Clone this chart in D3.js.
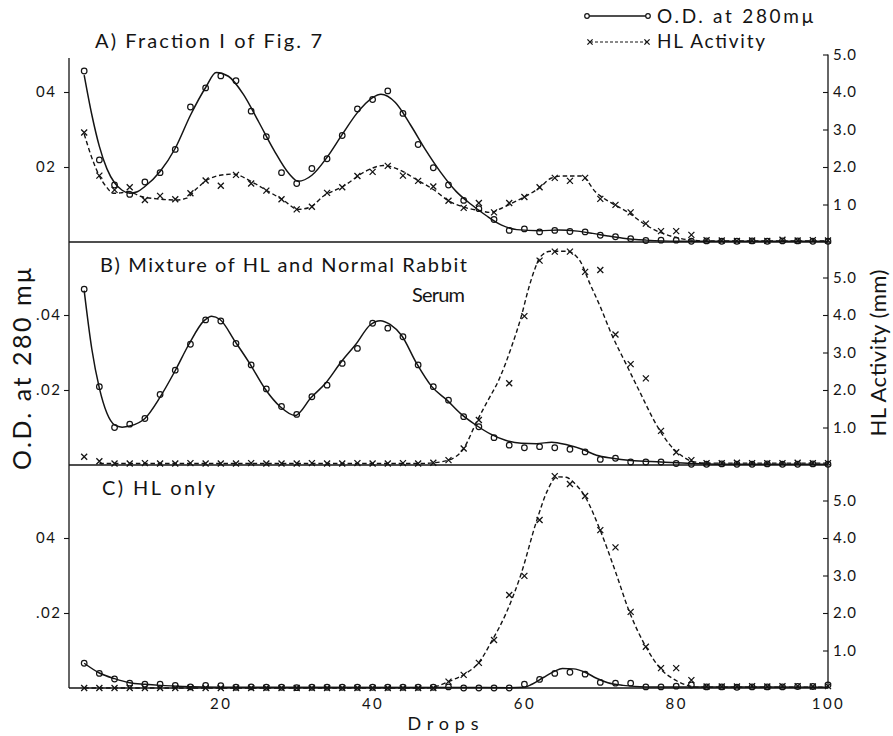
<!DOCTYPE html>
<html>
<head>
<meta charset="utf-8">
<script src="https://cdn.jsdelivr.net/npm/d3@7"></script>
<style>
  body { margin: 0; background: #fff; }
  svg { display: block; }
  text { font-family: Lato, "Noto Sans", "DejaVu Sans", sans-serif; fill: #141414; }
</style>
</head>
<body>
<svg id="chart" width="893" height="736"></svg>
<script>
// ---- data -------------------------------------------------------------
// fractions collected, one reading every 2 drops
const drops = [2,4,6,8,10,12,14,16,18,20,22,24,26,28,30,32,34,36,38,40,42,44,46,48,50,
               52,54,56,58,60,62,64,66,68,70,72,74,76,78,80,82,84,86,88,90,92,94,96,98,100];

// A) Fraction I of Fig. 7
const odA = [0.0456,0.0219,0.0152,0.0127,0.0160,0.0185,0.0247,0.0360,0.0411,0.0443,
             0.0430,0.0349,0.0281,0.0185,0.0156,0.0196,0.0222,0.0284,0.0355,0.0380,
             0.0403,0.0343,0.0260,0.0198,0.0152,0.0111,0.0089,0.0060,0.0031,0.0035,
             0.0027,0.0031,0.0028,0.0027,0.0018,0.0014,0.0009,0.0004,0.0005,0.0005,
             0.0002,0.0003,0.0002,0.0002,0.0003,0.0002,0.0003,0.0003,0.0002,0.0002];
const hlA = [2.92,1.77,1.39,1.46,1.12,1.23,1.14,1.30,1.64,1.50,
             1.79,1.56,1.37,1.14,0.87,0.94,1.31,1.46,1.76,1.87,
             2.03,1.77,1.63,1.48,1.10,0.91,1.04,0.79,1.04,1.20,
             1.46,1.71,1.63,1.71,1.15,0.99,0.79,0.49,0.29,0.29,
             0.19,0.05,0.04,0.03,0.04,0.03,0.06,0.04,0.05,0.04];

// B) Mixture of HL and normal rabbit serum (no activity reading at drop 56)
const odB = [0.0469,0.0209,0.0100,0.0109,0.0124,0.0188,0.0253,0.0322,0.0387,0.0384,
             0.0324,0.0267,0.0203,0.0156,0.0135,0.0182,0.0213,0.0271,0.0311,0.0378,
             0.0365,0.0342,0.0267,0.0209,0.0173,0.0129,0.0102,0.0073,0.0053,0.0046,
             0.0049,0.0046,0.0042,0.0035,0.0015,0.0018,0.0008,0.0008,0.0008,0.0004,
             0.0002,0.0002,0.0003,0.0002,0.0002,0.0003,0.0002,0.0002,0.0003,0.0002];
const hlB = [0.22,0.10,0.04,0.04,0.05,0.04,0.04,0.05,0.04,0.04,
             0.04,0.05,0.04,0.04,0.04,0.05,0.04,0.04,0.05,0.04,
             0.04,0.05,0.04,0.06,0.13,0.44,1.20,null,2.18,3.97,
             5.45,5.69,5.69,5.15,5.20,3.48,2.69,2.31,0.91,0.34,
             0.13,0.05,0.05,0.06,0.05,0.05,0.05,0.06,0.05,0.05];

// C) HL only
const odC = [0.0066,0.0039,0.0024,0.0013,0.0010,0.0010,0.0007,0.0003,0.0007,0.0006,
             0.0002,0.0003,0.0002,0.0002,0.0001,0.0002,0.0002,0.0002,0.0002,0.0002,
             0.0002,0.0002,0.0002,0.0002,0.0003,0.0000,0.0000,0.0000,0.0000,0.0010,
             0.0023,0.0039,0.0042,0.0037,0.0015,0.0013,0.0013,0.0003,0.0003,0.0005,
             0.0008,0.0003,0.0003,0.0002,0.0003,0.0003,0.0003,0.0004,0.0004,0.0008];
const hlC = [0,0,0,0,0,0,0,0,0,0,
             0,0,0,0,0,0,0,0,0,0,
             0,0,0,0,0.17,0.35,0.67,1.28,2.48,2.99,
             4.48,5.65,5.44,5.12,4.21,3.75,2.03,1.10,0.53,0.53,
             0.21,0.04,0.04,0.04,0.05,0.04,0.05,0.05,0.04,0.05];

// smoothed curves drawn by hand through the readings: [drop, value]
const odCurveA = [[2,0.0445],[3,0.034],[4,0.0255],[5,0.0195],[6,0.0158],[7,0.0138],[8,0.0130],
  [9,0.0134],[10,0.0148],[12,0.0188],[14,0.0250],[16,0.0338],[18,0.0412],[19.4,0.0452],[21,0.0442],
  [23,0.0393],[25,0.0320],[27,0.0245],[29,0.0182],[30.2,0.0162],[32,0.0178],[34,0.0226],[36,0.0287],
  [38,0.0345],[40,0.0385],[41.1,0.0394],[43,0.0372],[45,0.0312],[47,0.0245],[49,0.0185],[51,0.0135],
  [53,0.0100],[55,0.0070],[57,0.0045],[59,0.0033],[62,0.0030],[64.5,0.0032],[67,0.0029],[69,0.0023],
  [71,0.0016],[73,0.0010],[76,0.0005],[80,0.0002],[100,0.0002]];
const hlCurveA = [[2,2.88],[3,2.25],[4,1.76],[5,1.45],[5.8,1.30],[6.8,1.31],[7.8,1.35],[9.4,1.22],
  [11.6,1.15],[14.2,1.12],[15.5,1.17],[16.8,1.42],[18.1,1.64],[19.9,1.78],[21.6,1.81],[24.3,1.58],
  [26,1.38],[28.2,1.12],[30.2,0.87],[31.8,0.93],[33.5,1.22],[36.1,1.48],[39.2,1.90],[41.4,2.04],
  [43.6,1.92],[45.8,1.66],[48,1.40],[50,1.10],[52,0.93],[54,0.84],[55.5,0.79],[57,0.90],[58.5,1.05],
  [60,1.20],[62,1.45],[63.5,1.70],[65,1.76],[67.5,1.76],[69.4,1.33],[71.8,1.00],[73.6,0.80],
  [75.5,0.52],[77.6,0.28],[79.6,0.14],[81.6,0.06],[83.5,0.03],[100,0.03]];

const odCurveB = [[2,0.0465],[3,0.031],[4,0.0205],[5,0.0138],[6,0.0107],[7,0.0101],[8,0.0104],
  [10,0.0124],[12,0.0181],[14,0.0252],[15.8,0.0322],[17.8,0.0385],[18.8,0.0397],[19.9,0.0388],
  [21.9,0.0329],[23.8,0.0271],[25.8,0.0204],[27.8,0.0156],[29.8,0.0132],[31.9,0.0180],[33.8,0.0218],
  [35.9,0.0276],[37.8,0.0322],[39.7,0.0374],[41.0,0.0385],[42.3,0.0375],[43.8,0.0346],[45.8,0.0271],
  [47.8,0.0209],[49.8,0.0173],[51.6,0.0137],[53.5,0.0108],[55.5,0.0083],[57.5,0.0066],[59.6,0.0058],
  [61.6,0.0057],[63.6,0.0061],[65.6,0.0054],[67.6,0.0042],[69.5,0.0026],[71.6,0.0018],[74,0.0012],
  [78,0.0008],[82,0.0004],[86,0.0002],[100,0.0002]];
const hlCurveB = [[4,0.04],[46,0.04],[48,0.06],[50,0.13],[52,0.44],[53.7,1.15],[55,1.65],[56.7,2.30],
  [58.3,3.15],[59.6,3.97],[60.5,4.67],[61.4,5.24],[62.1,5.55],[63.4,5.70],[65.6,5.70],[67.3,5.45],
  [68.6,4.85],[70,4.22],[71.5,3.48],[73.4,2.69],[75.2,1.95],[77.4,1.07],[79.2,0.53],[80.9,0.22],
  [82.2,0.09],[84,0.05],[100,0.05]];

const odCurveC = [[2,0.0066],[4,0.0040],[6,0.0025],[8,0.0014],[10,0.0010],[12,0.0007],[15,0.0004],
  [20,0.0002],[58,0.0001],[60,0.0002],[61,0.0010],[62.5,0.0028],[64,0.0045],[65,0.0052],[66.5,0.0051],
  [68,0.0042],[69.5,0.0026],[71,0.0014],[73,0.0007],[76,0.0003],[100,0.0002]];
const hlCurveC = [[2,0],[47,0],[48.5,0.05],[50,0.17],[52,0.36],[54,0.68],[55.7,1.25],[57.6,2.0],
  [59.5,3.0],[61.6,4.45],[63,5.25],[64.3,5.63],[65.5,5.62],[66.5,5.48],[68,5.10],[70,4.20],[72,3.10],
  [73.8,2.05],[76,1.10],[78,0.50],[80,0.20],[81.5,0.07],[83,0.02],[100,0.02]];

// axis ticks and their printed labels
const xTicks = [20,40,60,80,100];
const odTicks = [0.02,0.04];
const hlTicks = [1,2,3,4,5];
const odLabelsA = ["02","04"];
const odLabelsB = [".02",".04"];
const odLabelsC = [".02","04"];
const hlLabelsA = ["1 0","2.0","3.0","4.0","5.0"];
const hlLabelsB = ["1.0","2.0","3.0","4.0","5.0"];
const hlLabelsC = ["1.0","2.0","3.0","4.0","5.0"];

// ---- drawing ----------------------------------------------------------
const svg = d3.select("#chart");
const ink = "#141414";

const x = d3.scaleLinear().domain([0, 100]).range([69, 828]);

const panels = [
  { base: 242, od: odA, hl: hlA, odCurve: odCurveA, hlCurve: hlCurveA, odLabels: odLabelsA, hlLabels: hlLabelsA },
  { base: 465, od: odB, hl: hlB, odCurve: odCurveB, hlCurve: hlCurveB, odLabels: odLabelsB, hlLabels: hlLabelsB },
  { base: 688, od: odC, hl: hlC, odCurve: odCurveC, hlCurve: hlCurveC, odLabels: odLabelsC, hlLabels: hlLabelsC }
];
panels.forEach(p => {
  p.yOD = d3.scaleLinear().domain([0, 0.06]).range([p.base, p.base - 225]);
  p.yHL = d3.scaleLinear().domain([0, 6]).range([p.base, p.base - 225]);
});

// frame: two vertical spines and the three panel baselines
svg.append("line").attr("x1", x(0)).attr("x2", x(0)).attr("y1", 58).attr("y2", panels[2].yOD(0))
  .attr("stroke", ink).attr("stroke-width", 1.3);
svg.append("line").attr("x1", x(100)).attr("x2", x(100))
  .attr("y1", panels[0].yHL(5)).attr("y2", panels[2].yOD(0))
  .attr("stroke", ink).attr("stroke-width", 1.3);
panels.forEach(p => {
  svg.append("line").attr("x1", x(0)).attr("x2", x(100))
    .attr("y1", p.yOD(0)).attr("y2", p.yOD(0))
    .attr("stroke", ink).attr("stroke-width", 1.3);
});

// axes
panels.forEach(p => {
  const gl = svg.append("g").attr("transform", `translate(${x(0)},0)`)
    .call(d3.axisLeft(p.yOD).tickValues(odTicks).tickSize(5).tickFormat((d, i) => p.odLabels[i]));
  gl.select(".domain").remove();
  gl.selectAll("line").attr("stroke", ink).attr("stroke-width", 1.1);
  gl.selectAll("text").attr("x", -33).attr("text-anchor", "start")
    .attr("font-size", 15).attr("letter-spacing", 1.5).style("font-family", "Lato, sans-serif");

  const gr = svg.append("g").attr("transform", `translate(${x(100)},0)`)
    .call(d3.axisRight(p.yHL).tickValues(hlTicks).tickSize(-5).tickPadding(5).tickFormat((d, i) => p.hlLabels[i]));
  gr.select(".domain").remove();
  gr.selectAll("line").attr("stroke", ink).attr("stroke-width", 1.1);
  gr.selectAll("text").attr("font-size", 15).attr("letter-spacing", 1).style("font-family", "Lato, sans-serif");
});

const gx = svg.append("g").attr("transform", `translate(0,${panels[2].yOD(0)})`)
  .call(d3.axisBottom(x).tickValues(xTicks).tickSize(0).tickPadding(10));
gx.select(".domain").remove();
gx.selectAll("text").attr("font-size", 15).attr("letter-spacing", 2.5).style("font-family", "Lato, sans-serif");

// curves
panels.forEach(p => {
  const odLine = d3.line().x(d => x(d[0])).y(d => p.yOD(d[1])).curve(d3.curveMonotoneX);
  const hlLine = d3.line().x(d => x(d[0])).y(d => p.yHL(d[1])).curve(d3.curveMonotoneX);
  svg.append("path").attr("d", odLine(p.odCurve)).attr("fill", "none")
    .attr("stroke", ink).attr("stroke-width", 1.5);
  svg.append("path").attr("d", hlLine(p.hlCurve)).attr("fill", "none")
    .attr("stroke", ink).attr("stroke-width", 1.4).attr("stroke-dasharray", "4.5,2.8");
});

// markers: open circles for O.D., crosses for HL activity
const cross = s => `M${-s},${-s}L${s},${s}M${s},${-s}L${-s},${s}`;
panels.forEach(p => {
  const odPts = drops.map((d, i) => [d, p.od[i]]).filter(d => d[1] != null);
  const hlPts = drops.map((d, i) => [d, p.hl[i]]).filter(d => d[1] != null);
  svg.append("g").selectAll("circle").data(odPts).join("circle")
    .attr("cx", d => x(d[0])).attr("cy", d => p.yOD(d[1])).attr("r", 2.8)
    .attr("fill", "none").attr("stroke", ink).attr("stroke-width", 1.2);
  svg.append("g").selectAll("path").data(hlPts).join("path")
    .attr("transform", d => `translate(${x(d[0])},${p.yHL(d[1])})`)
    .attr("d", cross(3)).attr("fill", "none").attr("stroke", ink).attr("stroke-width", 1.3);
});

// panel titles
const titleFont = 20;
function label(txt, px, py, len, size) {
  svg.append("text").attr("x", px).attr("y", py).attr("font-size", size || titleFont)
    .attr("textLength", len).attr("lengthAdjust", "spacing").text(txt);
}
label("A) Fraction I of Fig. 7", 95, 48, 227);
label("B) Mixture of HL and Normal Rabbit", 100, 272, 367);
label("Serum", 412, 302, 53);
label("C) HL only", 102, 495, 113);

// axis titles
svg.append("text").attr("transform", "translate(31,369) rotate(-90)")
  .attr("text-anchor", "middle").attr("font-size", 25)
  .attr("textLength", 202).attr("lengthAdjust", "spacing").text("O.D. at 280 mμ");
svg.append("text").attr("transform", "translate(886,353) rotate(-90)")
  .attr("text-anchor", "middle").attr("font-size", 22)
  .attr("textLength", 167).attr("lengthAdjust", "spacing").text("HL Activity (mm)");
svg.append("text").attr("x", 443).attr("y", 730).attr("text-anchor", "middle")
  .attr("font-size", 18).attr("textLength", 71).attr("lengthAdjust", "spacing").text("Drops");

// legend
const lg = svg.append("g");
lg.append("line").attr("x1", 587).attr("x2", 648).attr("y1", 16).attr("y2", 16)
  .attr("stroke", ink).attr("stroke-width", 1.3);
lg.selectAll("circle").data([587, 648]).join("circle")
  .attr("cx", d => d).attr("cy", 16).attr("r", 2.3)
  .attr("fill", "#fff").attr("stroke", ink).attr("stroke-width", 1.2);
lg.append("line").attr("x1", 590).attr("x2", 647).attr("y1", 42).attr("y2", 42)
  .attr("stroke", ink).attr("stroke-width", 1.2).attr("stroke-dasharray", "3,2");
lg.selectAll("path").data([590, 647]).join("path")
  .attr("transform", d => `translate(${d},42)`).attr("d", cross(2.6))
  .attr("fill", "none").attr("stroke", ink).attr("stroke-width", 1.3);
lg.append("text").attr("x", 657).attr("y", 23).attr("font-size", 19)
  .attr("textLength", 156).attr("lengthAdjust", "spacing").text("O.D. at 280mμ");
lg.append("text").attr("x", 657).attr("y", 48).attr("font-size", 19)
  .attr("textLength", 108).attr("lengthAdjust", "spacing").text("HL Activity");
</script>
</body>
</html>
